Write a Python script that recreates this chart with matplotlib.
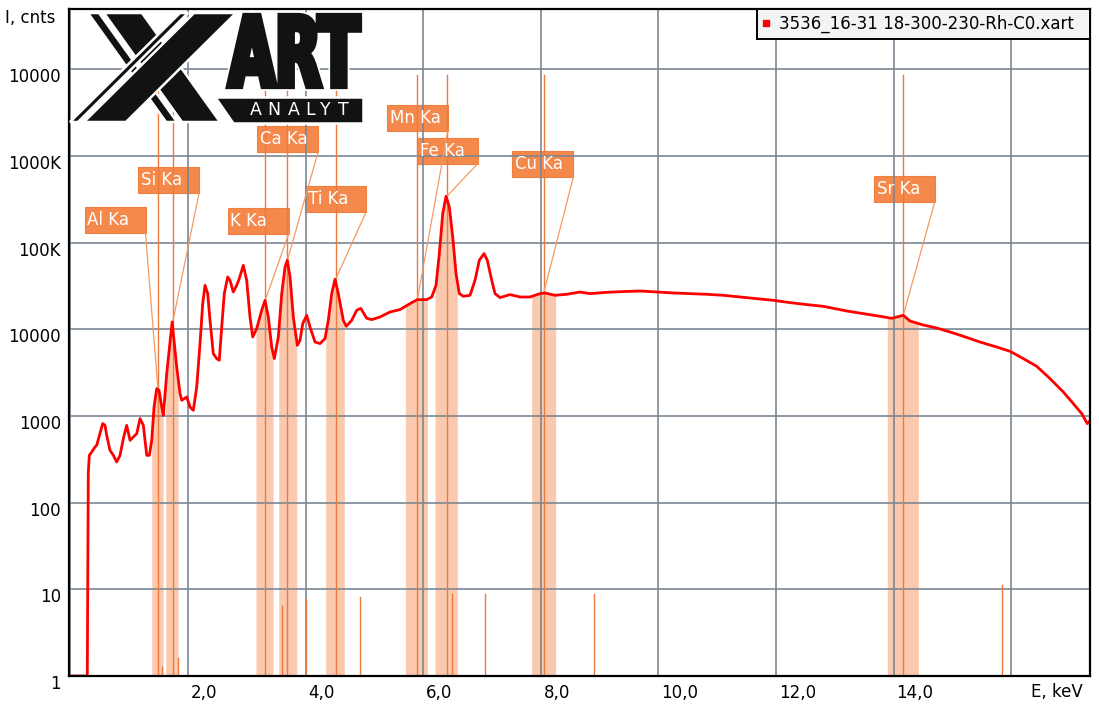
import numpy as np
import matplotlib
matplotlib.use('Agg')
import matplotlib.pyplot as plt
from matplotlib.patches import Rectangle, Polygon, PathPatch
from matplotlib.textpath import TextPath
from matplotlib.font_manager import FontProperties
from matplotlib.transforms import ScaledTranslation, Affine2D

# ---------------- data ----------------
energy_kev = [0.000, 0.287, 0.304, 0.321, 0.362, 0.418, 0.447, 0.503, 0.549, 0.588,
              0.617, 0.673, 0.730, 0.787, 0.844, 0.900, 0.957, 1.014, 1.070, 1.128,
              1.184, 1.240, 1.298, 1.342, 1.383, 1.422, 1.468, 1.507, 1.553, 1.580,
              1.638, 1.730, 1.808, 1.864, 1.893, 1.978, 2.034, 2.090, 2.148, 2.204,
              2.250, 2.289, 2.335, 2.374, 2.430, 2.488, 2.532, 2.573, 2.617, 2.675,
              2.714, 2.770, 2.828, 2.872, 2.940, 2.998, 3.054, 3.100, 3.168, 3.253,
              3.310, 3.366, 3.423, 3.468, 3.536, 3.594, 3.650, 3.689, 3.735, 3.791,
              3.859, 3.905, 3.951, 4.019, 4.075, 4.160, 4.245, 4.330, 4.386, 4.444,
              4.500, 4.556, 4.641, 4.692, 4.784, 4.869, 4.937, 5.039, 5.124, 5.265,
              5.435, 5.605, 5.776, 5.900, 6.060, 6.145, 6.218, 6.274, 6.332, 6.388,
              6.444, 6.502, 6.558, 6.614, 6.682, 6.796, 6.881, 6.954, 7.034, 7.090,
              7.165, 7.221, 7.306, 7.476, 7.646, 7.816, 7.986, 8.071, 8.241, 8.440,
              8.667, 8.837, 9.121, 9.403, 9.687, 9.971, 10.253, 10.537, 10.821, 11.104,
              11.388, 11.672, 11.954, 12.238, 12.522, 12.804, 13.088, 13.202, 13.485, 13.769,
              13.967, 14.165, 14.279, 14.505, 14.733, 14.959, 15.185, 15.469, 15.753, 15.980,
              16.206, 16.434, 16.660, 16.886, 17.056, 17.199, 17.294, 17.340]
counts = [1, 1, 218, 351, 383, 438, 458, 630, 815, 779,
          598, 401, 351, 294, 351, 547, 779, 523, 571, 625,
          931, 779, 351, 351, 523, 1267, 2065, 1974, 1267, 1016,
          3076, 12110, 3664, 1808, 1514, 1652, 1267, 1160, 2155, 6823,
          19740, 32080, 25740, 12670, 5230, 4580, 4380, 10600, 25740, 40000,
          36640, 26860, 32080, 38370, 54570, 36640, 13830, 8130, 10160, 16520,
          21530, 13830, 6230, 4580, 8130, 25740, 52180, 62370, 40000, 13830,
          6520, 7450, 11610, 14460, 10600, 7120, 6823, 7790, 12670, 25740,
          37640, 25740, 12670, 10800, 12670, 16520, 17420, 13360, 12900, 13830,
          15790, 16830, 19740, 21940, 21940, 23520, 32080, 74470, 215400, 341200,
          256700, 115700, 43770, 25740, 23950, 24600, 36640, 62370, 74470, 62370,
          36640, 25740, 23160, 25060, 23520, 23520, 25740, 26180, 24600, 25270,
          26860, 25740, 26640, 27150, 27590, 26860, 26180, 25740, 25270, 24600,
          23520, 22540, 21530, 20260, 19220, 18360, 16830, 16220, 15140, 14090,
          13360, 14460, 12430, 11180, 10320, 9290, 8280, 7120, 6230, 5560,
          4580, 3730, 2692, 1888, 1386, 1063, 815, 880]

elements = ['Al Ka', 'Si Ka', 'K Ka', 'Ca Ka', 'Ti Ka', 'Mn Ka', 'Fe Ka', 'Cu Ka', 'Sr Ka']
line_kev = [1.486, 1.740, 3.313, 3.691, 4.510, 5.898, 6.403, 8.047, 14.165]
line_top = [8.5e6, 6.0e6, 6.0e6, 8.3e6, 6.0e6, 8.5e6, 8.5e6, 8.5e6, 8.5e6]
band_lo = [1.383, 1.621, 3.156, 3.543, 4.342, 5.696, 6.201, 7.845, 13.893]
band_hi = [1.575, 1.830, 3.446, 3.849, 4.658, 6.070, 6.580, 8.253, 14.420]
peak_counts = [2150, 12100, 21500, 62400, 37600, 21500, 341000, 25900, 14500]
label_corner_kev = [1.277, 2.187, 3.709, 4.211, 5.027, 6.417, 6.927, 8.553, 14.699]
label_corner_counts = [127700, 369000, 124400, 1097000, 222900, 1918000, 812800, 569200, 293200]
kb_kev = [1.557, 1.836, 3.590, 4.013, 4.932, 6.490, 7.058, 8.905, 15.835]
kb_top = [1.26, 1.61, 6.5, 7.7, 8.15, 8.75, 8.75, 8.75, 11.1]

xtick_vals = [2, 4, 6, 8, 10, 12, 14]
xtick_labels = ['2,0', '4,0', '6,0', '8,0', '10,0', '12,0', '14,0']
grid_x = [0, 2, 4, 6, 8, 10, 12, 14, 16]
ytick_vals = [1, 10, 100, 1e3, 1e4, 1e5, 1e6, 1e7]
ytick_labels = ['1', '10', '100', '1000', '10000', '100K', '1000K', '10000']
legend_label = '3536_16-31 18-300-230-Rh-C0.xart'

# ---------------- styles ----------------
GRID = '#7b8794'
LINE_OR = '#EC7A3E'
LEAD_OR = '#F39A62'
BOX_OR = '#F4894B'
BAND = '#FAC9AE'

plt.rcParams['font.family'] = ['DejaVu Sans']
fig = plt.figure(figsize=(10.99, 7.15), dpi=100)
ax = fig.add_axes([69.3 / 1099, 39 / 715, (1090 - 69.3) / 1099, (676 - 9) / 715])
ax.set_yscale('log')
ax.set_xlim(-0.019, 17.34)
ax.set_ylim(1, 10 ** (667 / 86.7))

for v in grid_x:
    ax.axvline(v, color=GRID, lw=1.2, zorder=1)
for v in ytick_vals:
    ax.axhline(v, color=GRID, lw=1.2, zorder=1)

E = np.array(energy_kev, dtype=float)
C = np.array(counts, dtype=float)
logC = np.log10(C)

# shaded bands under the spectrum
for lo, hi in zip(band_lo, band_hi):
    m = (E > lo) & (E < hi)
    xs = np.concatenate([[lo], E[m], [hi]])
    ys = 10 ** np.interp(xs, E, logC)
    ax.fill_between(xs, 1, ys, color=BAND, lw=0, zorder=0.7)

# element lines
for e, t in zip(line_kev, line_top):
    ax.plot([e, e], [1, t], color=LINE_OR, lw=1.0, zorder=2)
for e, t in zip(kb_kev, kb_top):
    ax.plot([e, e], [1, t], color=LINE_OR, lw=1.0, zorder=2)

# spectrum
ax.plot(E, C, color='#ff0000', lw=2.0, zorder=3)

# label boxes
box_w = 61 / 58.8
box_h = 10 ** (26 / 86.7)
for name, le, lc, ce, cc in zip(elements, line_kev, peak_counts, label_corner_kev, label_corner_counts):
    ax.add_patch(Rectangle((ce - box_w, cc), box_w, cc * box_h - cc, facecolor=BOX_OR,
                           edgecolor='#F08040', lw=0.8, zorder=0.8))
    ax.text(ce - box_w + 0.05, cc * np.sqrt(box_h), name, color='white', fontsize=12,
            ha='left', va='center', zorder=6)
    ax.plot([ce, le], [cc, lc], color=LEAD_OR, lw=0.9, zorder=2.5)

# axes styling
for s in ax.spines.values():
    s.set_color('black')
    s.set_linewidth(1.6)
    s.set_zorder(7)
ax.set_xticks(xtick_vals)
ax.set_xticklabels(xtick_labels)
ax.set_yticks(ytick_vals)
ax.set_yticklabels(ytick_labels)
ax.minorticks_off()
ax.tick_params(axis='both', length=0, labelsize=12, colors='black')
ax.tick_params(axis='y', pad=6)
ax.tick_params(axis='x', pad=6)
for lab in ax.get_xticklabels():
    lab.set_horizontalalignment('left')
    lab.set_transform(lab.get_transform() + ScaledTranslation(0.03, 0, fig.dpi_scale_trans))
for lab in ax.get_yticklabels():
    lab.set_transform(lab.get_transform() + ScaledTranslation(0, -0.06, fig.dpi_scale_trans))

fig.text(5 / 1099, 1 - 18 / 715, 'I, cnts', fontsize=12, ha='left', va='center')
fig.text(1083 / 1099, 1 - 692 / 715, 'E, keV', fontsize=12, ha='right', va='center')

# legend
ax.plot([], [], 's', color='#ff0000', ms=4.5, label=legend_label + '  ')
leg = ax.legend(loc='upper right', borderaxespad=0, fancybox=False, edgecolor='black',
                facecolor='#f4f4f4', framealpha=1, handlelength=0.4, handletextpad=0.55,
                fontsize=12, borderpad=0.35)
leg.get_frame().set_linewidth(1.4)
leg.set_zorder(8)

# ---------------- logo overlay (pixel coordinates) ----------------
ov = fig.add_axes([0, 0, 1, 1], zorder=10)
ov.set_xlim(0, 1099)
ov.set_ylim(715, 0)
ov.axis('off')
ov.patch.set_alpha(0)
INK = '#111313'
logo_polys = [
    [(88, 13), (99, 13), (177, 122), (166, 122)],        # descending thin
    [(104, 13), (142, 13), (220, 122), (182, 122)],      # descending thick
    [(194, 13), (236, 13), (126, 122), (84, 122)],       # ascending thick
    [(180, 13), (188, 13), (78, 122), (70, 122)],        # ascending thin
    [(215, 97), (363, 97), (363, 123), (233, 123)],      # ANALYT bar
]
for p in logo_polys:
    ov.add_patch(Polygon(p, closed=True, facecolor=INK, edgecolor='white', lw=1.8))
art_font = FontProperties(family='DejaVu Sans', weight='bold')
tp = TextPath((0, 0), 'ART', size=100, prop=art_font)
bb = tp.get_extents()
sx = (359 - 229) / bb.width
sy = (86 - 16) / bb.height
tr = Affine2D().translate(-bb.x0, -bb.y0).scale(sx, -sy).translate(229, 86) + ov.transData
ov.add_patch(PathPatch(tp, facecolor=INK, edgecolor='white', lw=7, transform=tr))
ov.add_patch(PathPatch(tp, facecolor=INK, edgecolor=INK, lw=4.5, transform=tr))
for ch, xc in zip('ANALYT', [256, 274, 293.5, 310.5, 325.5, 343.5]):
    ov.text(xc, 110, ch, color='white', fontsize=12.5, ha='center', va='center')

fig.savefig('out.png', dpi=100)
